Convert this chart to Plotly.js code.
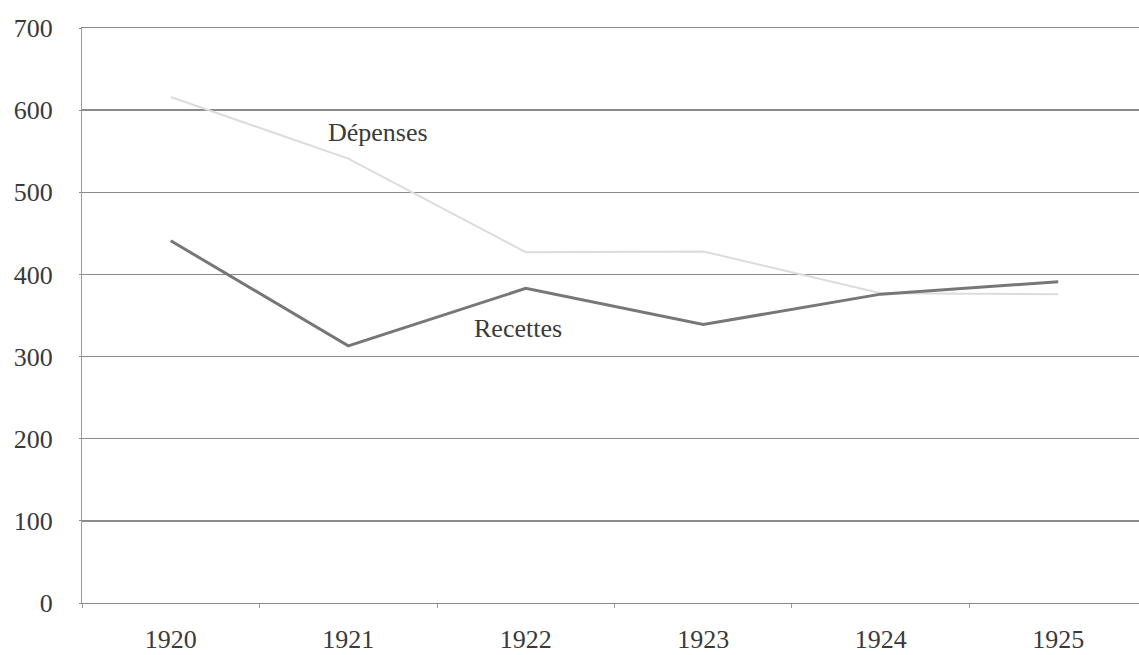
<!DOCTYPE html>
<html>
<head>
<meta charset="utf-8">
<script src="https://cdn.plot.ly/plotly-3.0.1.min.js"></script>
<style>html,body{margin:0;padding:0;background:#fff;}#chart{width:1139px;height:655px;}</style>
</head>
<body>
<div id="chart"></div>
<script>
var years = ["1920", "1921", "1922", "1923", "1924", "1925"];
var depenses = [616, 541, 427, 428, 377, 376];
var recettes = [441, 313, 383, 339, 376, 391];
var yTicks = [0, 100, 200, 300, 400, 500, 600, 700];

var serif = "Liberation Serif, Times New Roman, serif";

var traces = [
  {x: years, y: depenses, type: "scatter", mode: "lines", name: "Dépenses",
   line: {color: "#dcdcdc", width: 2}, hoverinfo: "x+y"},
  {x: years, y: recettes, type: "scatter", mode: "lines", name: "Recettes",
   line: {color: "#777777", width: 3}, hoverinfo: "x+y"}
];

var layout = {
  width: 1139, height: 655,
  margin: {l: 82, r: 0, t: 28, b: 52},
  paper_bgcolor: "#fff", plot_bgcolor: "#fff",
  showlegend: false,
  font: {family: serif, size: 26, color: "#3a3a3a"},
  xaxis: {
    type: "category", range: [-0.5, 5.455], fixedrange: true,
    showgrid: false, zeroline: false,
    showline: true, mirror: true, linecolor: "#8a8a8a", linewidth: 1.3,
    ticks: "outside", ticklen: 4, tickcolor: "#999", tickson: "boundaries",
    ticklabelstandoff: 12,
    tickfont: {family: serif, size: 26, color: "#3a3a3a"}
  },
  yaxis: {
    range: [0, 700], tickvals: yTicks, fixedrange: true,
    showgrid: true, gridcolor: "#8a8a8a", gridwidth: 1.3,
    zeroline: false,
    showline: true, linecolor: "#9a9a9a", linewidth: 1,
    ticks: "outside", ticklen: 2, tickcolor: "#8a8a8a",
    ticklabelstandoff: 21,
    tickfont: {family: serif, size: 26, color: "#3a3a3a"}
  },
  annotations: [
    {x: 1.17, y: 573, xref: "x", yref: "y", text: "Dépenses", showarrow: false,
     font: {family: serif, size: 26, color: "#3a3a3a"}},
    {x: 1.955, y: 334, xref: "x", yref: "y", text: "Recettes", showarrow: false,
     font: {family: serif, size: 26, color: "#3a3a3a"}}
  ]
};

Plotly.newPlot("chart", traces, layout, {displayModeBar: false, staticPlot: true});
</script>
</body>
</html>
